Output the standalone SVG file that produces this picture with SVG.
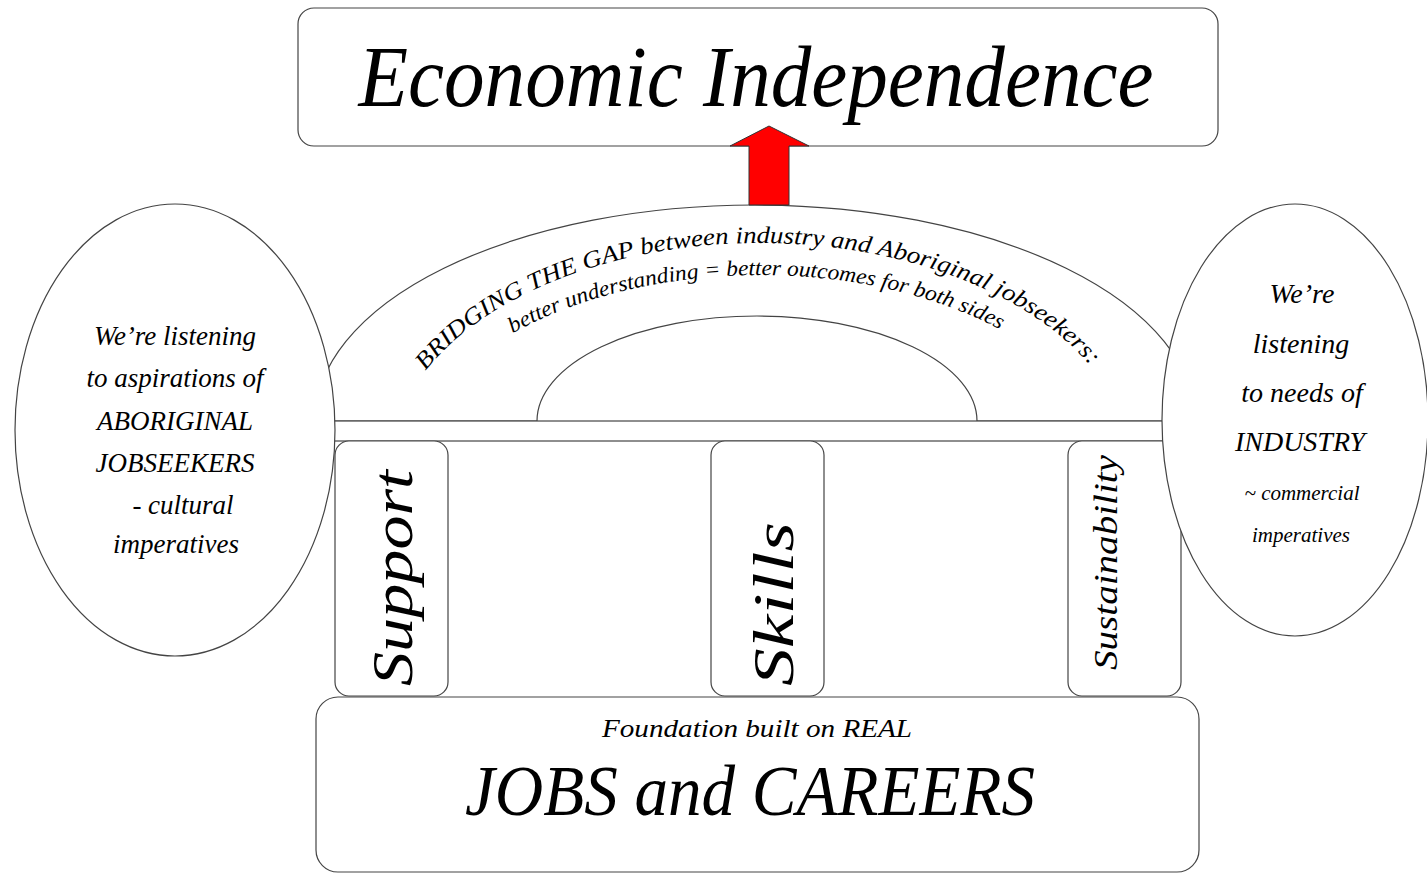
<svg xmlns="http://www.w3.org/2000/svg" width="1427" height="873" viewBox="0 0 1427 873">
<style>
.shape{fill:#ffffff;stroke:#444444;stroke-width:1.2}
.hand{font-family:"Liberation Serif","DejaVu Serif",serif;font-style:italic;fill:#000000}
</style>
<defs>
<path id="arc1" d="M 388,470 A 372,227 0 0 1 1132,470"/>
<path id="arc2" d="M 406,480 A 354,205 0 0 1 1114,480"/>
</defs>
<rect width="1427" height="873" fill="#ffffff"/>
<g id="economic-independence">
<rect class="shape" x="298" y="8" width="920" height="138" rx="16"/>
<text class="hand" x="756" y="106" font-size="86" text-anchor="middle" textLength="795" lengthAdjust="spacingAndGlyphs">Economic Independence</text>
</g>
<g id="bridge-arch">
<path class="shape" d="M 315,421 A 440,216 0 0 1 1195,421 Z"/>
<path class="shape" d="M 537,421 A 220,105 0 0 1 977,421"/>
<text class="hand" font-size="24"><textPath href="#arc1" startOffset="108" textLength="732" lengthAdjust="spacingAndGlyphs">BRIDGING THE GAP between industry and Aboriginal jobseekers:</textPath></text>
<text class="hand" font-size="22"><textPath href="#arc2" startOffset="190" textLength="505" lengthAdjust="spacingAndGlyphs">better understanding = better outcomes for both sides</textPath></text>
</g>
<g id="beam">
<rect class="shape" x="328" y="421" width="842" height="20"/>
</g>
<g id="pillar-support">
<rect class="shape" x="335" y="441" width="113" height="255" rx="14"/>
<text class="hand" transform="translate(412,686) rotate(-90)" font-size="58" textLength="216" lengthAdjust="spacingAndGlyphs">Support</text>
</g>
<g id="pillar-skills">
<rect class="shape" x="711" y="441" width="113" height="255" rx="14"/>
<text class="hand" transform="translate(793,686) rotate(-90)" font-size="56" textLength="164" lengthAdjust="spacingAndGlyphs">Skills</text>
</g>
<g id="pillar-sustainability">
<rect class="shape" x="1068" y="441" width="113" height="255" rx="14"/>
<text class="hand" transform="translate(1117,670) rotate(-90)" font-size="34" textLength="215" lengthAdjust="spacingAndGlyphs">Sustainability</text>
</g>
<g id="foundation">
<rect class="shape" x="316" y="697" width="883" height="175" rx="22"/>
<text class="hand" x="757" y="737" font-size="25" text-anchor="middle" textLength="310" lengthAdjust="spacingAndGlyphs">Foundation built on REAL</text>
<text class="hand" x="750" y="815" font-size="72" text-anchor="middle" textLength="570" lengthAdjust="spacingAndGlyphs">JOBS and CAREERS</text>
</g>
<g id="aboriginal-jobseekers">
<ellipse class="shape" cx="175" cy="430" rx="160" ry="226"/>
<g class="hand" font-size="27" text-anchor="middle">
<text x="175" y="345">We’re listening</text>
<text x="175" y="387">to aspirations of</text>
<text x="175" y="430">ABORIGINAL</text>
<text x="175" y="472">JOBSEEKERS</text>
<text x="183" y="514">- cultural</text>
<text x="176" y="553">imperatives</text>
</g>
</g>
<g id="industry">
<ellipse class="shape" cx="1295" cy="420" rx="133" ry="216"/>
<g class="hand" text-anchor="middle">
<text x="1302" y="303" font-size="28">We’re</text>
<text x="1301" y="353" font-size="28">listening</text>
<text x="1302" y="402" font-size="28">to needs of</text>
<text x="1300" y="451" font-size="28">INDUSTRY</text>
<text x="1302" y="500" font-size="21">~ commercial</text>
<text x="1301" y="542" font-size="21">imperatives</text>
</g>
</g>
<g id="connectors">
<polygon points="769,126 809,146 789,146 789,205 749,205 749,146 730,146" fill="#ff0000" stroke="#333333" stroke-width="1"/>
</g>
</svg>
